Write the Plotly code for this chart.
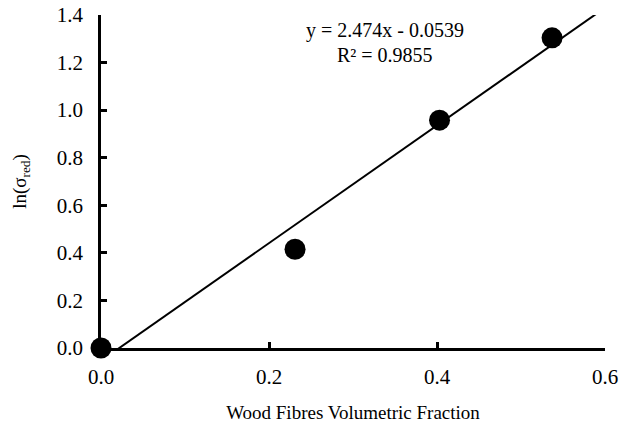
import plotly.graph_objects as go

x_vals = [0.0, 0.231, 0.403, 0.537]
y_vals = [0.0, 0.415, 0.958, 1.304]
slope = 2.474
intercept = -0.0539
fit_x = [0.0, 0.6]
fit_y = [slope * v + intercept for v in fit_x]
x_ticks = [0.0, 0.2, 0.4, 0.6]
y_ticks = [0.0, 0.2, 0.4, 0.6, 0.8, 1.0, 1.2, 1.4]

font = "Liberation Serif, Times New Roman, serif"

fig = go.Figure()
fig.add_trace(go.Scatter(x=fit_x, y=fit_y, mode="lines",
                         line=dict(color="black", width=2), hoverinfo="skip",
                         showlegend=False))
fig.add_trace(go.Scatter(x=x_vals, y=y_vals, mode="markers",
                         marker=dict(color="black", size=21),
                         cliponaxis=False, showlegend=False))

fig.add_annotation(x=0.338, y=1.335, xref="x", yref="y", showarrow=False,
                   text="y = 2.474x - 0.0539",
                   font=dict(family=font, size=20, color="black"))
fig.add_annotation(x=0.338, y=1.232, xref="x", yref="y", showarrow=False,
                   text="R² = 0.9855",
                   font=dict(family=font, size=20, color="black"))

fig.update_xaxes(range=[0, 0.6], tickvals=x_ticks,
                 ticktext=[f"{v:.1f}" for v in x_ticks],
                 showline=True, linecolor="black", linewidth=2.5,
                 ticks="inside", ticklen=6, tickwidth=2.5, tickcolor="black",
                 ticklabelstandoff=8, automargin=False,
                 showgrid=False, zeroline=False,
                 tickfont=dict(family=font, size=21, color="black"),
                 title=dict(text="Wood Fibres Volumetric Fraction",
                            font=dict(family=font, size=19, color="black"),
                            standoff=18))
fig.update_yaxes(range=[0, 1.4], tickvals=y_ticks,
                 ticktext=[f"{v:.1f}" for v in y_ticks],
                 showline=True, linecolor="black", linewidth=2.5,
                 ticks="inside", ticklen=6, tickwidth=2.5, tickcolor="black",
                 ticklabelstandoff=11, automargin=False,
                 showgrid=False, zeroline=False,
                 tickfont=dict(family=font, size=21, color="black"),
                 title=dict(text="ln(σ<sub>red</sub>)",
                            font=dict(family=font, size=19, color="black"),
                            standoff=26))

fig.update_layout(width=630, height=425, plot_bgcolor="white", paper_bgcolor="white",
                  margin=dict(l=101, r=25, t=15, b=77))

fig.write_html("out.html", post_script="document.body.style.margin='0';",
               config={"displayModeBar": False})
